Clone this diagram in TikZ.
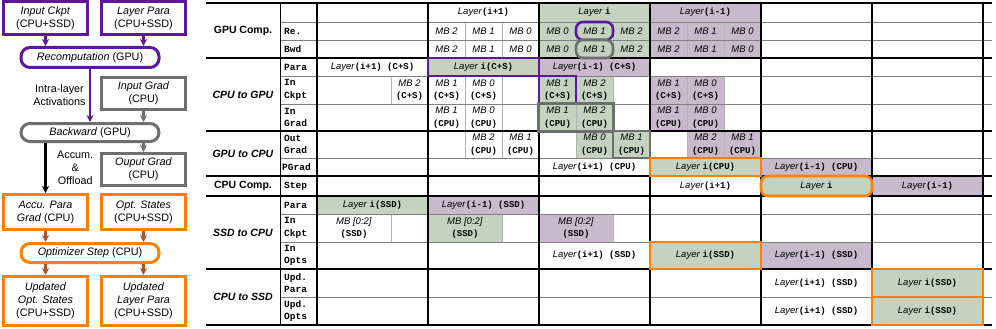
\documentclass[tikz,border=0pt]{standalone}
\usepackage{fontspec}
\setmainfont{Liberation Sans}
\setmonofont{Liberation Mono}
\usepackage{tikz}
\usepackage{xcolor}
\usetikzlibrary{positioning, arrows.meta, fit}

\definecolor{ppl}{HTML}{5B189E}
\definecolor{gry}{HTML}{6E6E6E}
\definecolor{org}{HTML}{FF8000}
\definecolor{brn}{HTML}{A5562A}
\definecolor{grn}{HTML}{C5D2BF}
\definecolor{prp}{HTML}{C8B9CD}

\newcommand{\flowfont}{\fontsize{10.8}{13}\selectfont}
\newcommand{\tabfont}{\fontsize{9.5}{12.5}\selectfont}
\newcommand{\cd}[1]{{\ttfamily\bfseries\fontsize{9}{12.5}\selectfont #1}}
\newcommand{\mb}[1]{\textit{MB #1}}

\tikzset{
  box/.style={draw, line width=3pt, minimum width=84pt, align=center,
    inner sep=1pt, font=\flowfont},
  pill/.style={draw, line width=3pt, rounded corners=9pt, minimum width=138pt,
    inner sep=1pt, font=\flowfont},
  arr/.style={-{Stealth[length=7pt, width=7pt]}, line width=2.2pt},
  cell/.style={draw=gray!60, line width=0.6pt, inner sep=0pt, align=center,
    font=\tabfont},
  gcell/.style={fill=grn},
  pcell/.style={fill=prp},
  pframe/.style={draw=ppl, line width=2.6pt},
  gframe/.style={draw=gry, line width=2.6pt},
  oframe/.style={draw=org, line width=2.6pt},
  oval/.style={rounded corners=7pt},
  thickline/.style={line width=2pt},
  thinline/.style={gray, line width=0.9pt},
  seclabel/.style={font=\fontsize{10.5}{12}\selectfont\bfseries},
  rowlabel/.style={anchor=west, align=left, inner sep=0pt,
    font=\ttfamily\bfseries\fontsize{9.5}{12.5}\selectfont},
}

% one table cell: style, name, first sub column, span, top, bottom, text
\newcommand{\cell}[7][]{%
  \node[cell, #1, minimum width={37*#4*1pt}, minimum height={(#6-#5)*1pt}]
    (#2) at ({317+37*#3+18.5*#4},{(#5+#6)/2}) {#7};}

\begin{document}
\begin{tikzpicture}[x=1pt, y=-1pt]
  \useasboundingbox (0,0) rectangle (996,329);

  % Flow of one layer
  \node[box, draw=ppl, minimum height=33pt] (ickpt)  at (45.5,18)  {\textit{Input Ckpt}\\(CPU+SSD)};
  \node[box, draw=ppl, minimum height=33pt] (lpara)  at (143.5,18) {\textit{Layer Para}\\(CPU+SSD)};
  \node[pill, draw=ppl, minimum height=20pt] (recomp) at (90,57.5) {\textit{Recomputation} (GPU)};
  \node[box, draw=gry, minimum height=32pt] (ingrad) at (143.5,93.5) {\textit{Input Grad}\\(CPU)};
  \node[pill, draw=gry, minimum height=18pt] (bwd)    at (90,132.5) {\textit{Backward} (GPU)};
  \node[box, draw=gry, minimum height=32pt] (outgrad) at (143.5,169.5) {\textit{Ouput Grad}\\(CPU)};
  \node[box, draw=org, minimum height=35pt] (accu)   at (45.5,212)  {\textit{Accu. Para}\\\textit{Grad} (CPU)};
  \node[box, draw=org, minimum height=35pt] (optst)  at (143.5,212) {\textit{Opt. States}\\(CPU+SSD)};
  \node[pill, draw=org, minimum height=19pt] (optstep) at (90,253) {\textit{Optimizer Step} (CPU)};
  \node[box, draw=org, minimum height=49pt] (updopt)  at (45.5,301)  {\textit{Updated}\\\textit{Opt. States}\\(CPU+SSD)};
  \node[box, draw=org, minimum height=49pt] (updpara) at (143.5,301) {\textit{Updated}\\\textit{Layer Para}\\(CPU+SSD)};

  % Recomputation
  \draw[arr, ppl] (ickpt.south) -- (ickpt.south |- recomp.north);
  \draw[arr, ppl] (lpara.south) -- (lpara.south |- recomp.north);
  \draw[arr, ppl] (recomp.south) -- (bwd.north)
    node[midway, left, align=center, text=black, font=\flowfont] {Intra-layer\\Activations};

  % Backward
  \draw[arr, gry] (ingrad.south) -- (ingrad.south |- bwd.north);
  \draw[arr, gry] (outgrad.north |- bwd.south) -- (outgrad.north);
  \draw[arr, black, line width=2.8pt] (accu.north |- bwd.south) -- (accu.north)
    node[midway, right=7pt, align=center, font=\flowfont] {Accum.\\\&\\Offload};

  % Optimizer step
  \draw[arr, brn] (accu.south) -- (accu.south |- optstep.north);
  \draw[arr, brn] (optst.south) -- (optst.south |- optstep.north);
  \draw[arr, brn] (updopt.north |- optstep.south) -- (updopt.north);
  \draw[arr, brn] (updpara.north |- optstep.south) -- (updpara.north);

  % Section and row labels
  \node[seclabel] (gpucomp) at (243,30.5)  {GPU Comp.};
  \node[seclabel] (cpugpu)  at (243,94.5)  {\textit{CPU to GPU}};
  \node[seclabel] (gpucpu)  at (243,153.5) {\textit{GPU to CPU}};
  \node[seclabel] (cpucomp) at (243,186)   {CPU Comp.};
  \node[seclabel] (ssdcpu)  at (243,232.5) {\textit{SSD to CPU}};
  \node[seclabel] (cpussd)  at (243,297)   {\textit{CPU to SSD}};

  \node[rowlabel] (lre)    at (284,31)    {Re.};
  \node[rowlabel] (lbwd)   at (284,49)    {Bwd};
  \node[rowlabel] (lpar)   at (284,67)    {Para};
  \node[rowlabel] (lick)   at (284,90)    {In\\Ckpt};
  \node[rowlabel] (ligr)   at (284,117.5) {In\\Grad};
  \node[rowlabel] (logr)   at (284,144.5) {Out\\Grad};
  \node[rowlabel] (lpgr)   at (282,167)   {PGrad};
  \node[rowlabel] (lstep)  at (284,186)   {Step};
  \node[rowlabel] (lspar)  at (284,205)   {Para};
  \node[rowlabel] (lsck)   at (284,228)   {In\\Ckpt};
  \node[rowlabel] (lsop)   at (284,255.5) {In\\Opts};
  \node[rowlabel] (lupa)   at (284,283)   {Upd.\\Para};
  \node[rowlabel] (lupo)   at (284,311)   {Upd.\\Opts};

  % GPU compute
  \cell{h1}{3}{3}{3}{22}{\textit{Layer}\cd{(i+1)}}
  \cell[gcell]{h2}{6}{3}{3}{22}{\textit{Layer }\cd{i}}
  \cell[pcell]{h3}{9}{3}{3}{22}{\textit{Layer}\cd{(i-1)}}
  \foreach \r/\ya/\yb in {re/22/40, bw/40/58} {
    \foreach \c/\m in {3/2, 4/1, 5/0} {\cell{\r\c}{\c}{1}{\ya}{\yb}{\mb{\m}}}
    \foreach \c/\m in {6/0, 8/2} {\cell[gcell]{\r\c}{\c}{1}{\ya}{\yb}{\mb{\m}}}
    \foreach \c/\m in {9/2, 10/1, 11/0} {\cell[pcell]{\r\c}{\c}{1}{\ya}{\yb}{\mb{\m}}}
  }

  % CPU to GPU
  \cell{cp0}{0}{3}{58}{76}{\textit{Layer}\cd{(i+1) (C+S)}}
  \cell[pcell]{cp2}{6}{3}{58}{76}{\textit{Layer}\cd{(i-1) (C+S)}}
  \foreach \c/\m in {2/2, 3/1, 4/0} {\cell{ck\c}{\c}{1}{76}{104}{\mb{\m}\\\cd{(C+S)}}}
  \cell[gcell]{ck7}{7}{1}{76}{104}{\mb{2}\\\cd{(C+S)}}
  \foreach \c/\m in {9/1, 10/0} {\cell[pcell]{ck\c}{\c}{1}{76}{104}{\mb{\m}\\\cd{(C+S)}}}
  \foreach \c/\m in {3/1, 4/0} {\cell{ig\c}{\c}{1}{104}{131}{\mb{\m}\\\cd{(CPU)}}}
  \foreach \c/\m in {6/1, 7/2} {\cell[gcell]{ig\c}{\c}{1}{104}{131}{\mb{\m}\\\cd{(CPU)}}}
  \foreach \c/\m in {9/1, 10/0} {\cell[pcell]{ig\c}{\c}{1}{104}{131}{\mb{\m}\\\cd{(CPU)}}}

  % GPU to CPU
  \foreach \c/\m in {4/2, 5/1} {\cell{og\c}{\c}{1}{131}{158}{\mb{\m}\\\cd{(CPU)}}}
  \cell[gcell]{og7}{7}{1}{131}{158}{\mb{0}\\\cd{(CPU)}}
  \foreach \c/\m in {10/2, 11/1} {\cell[pcell]{og\c}{\c}{1}{131}{158}{\mb{\m}\\\cd{(CPU)}}}
  \cell{pg2}{6}{3}{158}{176}{\textit{Layer}\cd{(i+1) (CPU)}}
  \cell[pcell]{pg4}{12}{3}{158}{176}{\textit{Layer}\cd{(i-1) (CPU)}}

  % CPU compute
  \cell{st3}{9}{3}{176}{196}{\textit{Layer}\cd{(i+1)}}
  \cell[pcell]{st5}{15}{3}{176}{196}{\textit{Layer}\cd{(i-1)}}

  % SSD to CPU
  \cell[gcell]{sp0}{0}{3}{196}{214}{\textit{Layer }\cd{i(SSD)}}
  \cell[pcell]{sp1}{3}{3}{196}{214}{\textit{Layer}\cd{(i-1) (SSD)}}
  \cell{sc0}{0}{2}{214}{242}{\textit{MB [0:2]}\\\cd{(SSD)}}
  \cell[gcell]{sc1}{3}{2}{214}{242}{\textit{MB [0:2]}\\\cd{(SSD)}}
  \cell[pcell]{sc2}{6}{2}{214}{242}{\textit{MB [0:2]}\\\cd{(SSD)}}
  \cell{so2}{6}{3}{242}{269}{\textit{Layer}\cd{(i+1) (SSD)}}
  \cell[pcell]{so4}{12}{3}{242}{269}{\textit{Layer}\cd{(i-1) (SSD)}}

  % CPU to SSD
  \cell{up4}{12}{3}{269}{297}{\textit{Layer}\cd{(i+1) (SSD)}}
  \cell{uo4}{12}{3}{297}{325}{\textit{Layer}\cd{(i+1) (SSD)}}

  % Grid
  \foreach \y in {3,58,131,176,196,269,325} \draw[thickline] (206,\y) -- (992,\y);
  \foreach \y in {22,40,76,104,158,214,242,297} \draw[thinline] (280,\y) -- (992,\y);
  \draw[line width=1pt] (280,3) -- (280,325);
  \foreach \x in {317,428,...,983} \draw[thickline] (\x,3) -- (\x,325);

  % Highlighted cells
  \cell[gcell, pframe, oval]{re7}{7}{1}{22}{40}{\mb{1}}
  \cell[gcell, gframe, oval]{bw7}{7}{1}{40}{58}{\mb{1}}
  \cell[gcell, pframe]{cp1}{3}{3}{58}{76}{\textit{Layer }\cd{i(C+S)}}
  \cell[gcell, pframe]{ck6}{6}{1}{76}{104}{\mb{1}\\\cd{(C+S)}}
  \node[gframe, fit=(ig6)(ig7), inner sep=0pt] (igfr) {};
  \cell[gcell, gframe]{og8}{8}{1}{131}{158}{\mb{1}\\\cd{(CPU)}}
  \cell[gcell, oframe]{pg3}{9}{3}{158}{176}{\textit{Layer }\cd{i(CPU)}}
  \cell[gcell, oframe, oval]{st4}{12}{3}{176}{196}{\textit{Layer }\cd{i}}
  \cell[gcell, oframe]{so3}{9}{3}{242}{269}{\textit{Layer }\cd{i(SSD)}}
  \cell[gcell, oframe]{up5}{15}{3}{269}{297}{\textit{Layer }\cd{i(SSD)}}
  \cell[gcell, oframe]{uo5}{15}{3}{297}{325}{\textit{Layer }\cd{i(SSD)}}
\end{tikzpicture}
\end{document}
